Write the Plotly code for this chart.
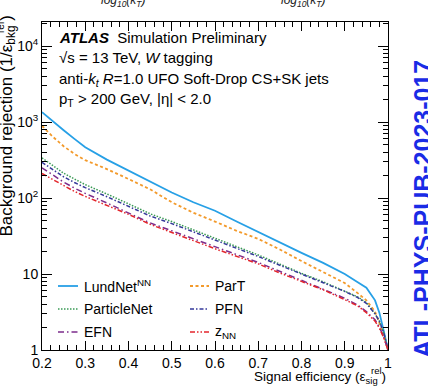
import plotly.graph_objects as go

eff = [0.2, 0.225, 0.25, 0.275, 0.3, 0.35, 0.4, 0.45, 0.5, 0.55, 0.6, 0.65, 0.7,
       0.75, 0.8, 0.85, 0.9, 0.93, 0.95, 0.97, 0.98, 0.99, 1.0]
lundnet = [1350, 1020, 780, 600, 465, 320, 228, 165, 118, 88, 68, 49, 35.5,
           26, 19, 14, 10, 7.8, 6.6, 4.5, 3.1, 1.8, 1.0]
part = [890, 640, 480, 380, 315, 240, 178, 130, 88, 64, 49, 37, 29,
        21, 14.8, 10.6, 7.6, 5.6, 4.5, 3.2, 2.3, 1.6, 1.0]
particlenet = [337, 265, 212, 178, 150, 113, 83, 62, 49, 38, 29.5, 23, 17.8,
               13.5, 10.2, 7.9, 6.0, 5.0, 4.2, 3.0, 2.4, 1.7, 1.0]
pfn = [295, 235, 190, 160, 137, 104, 77, 58, 46, 36, 28, 22, 17,
       13, 10, 7.8, 5.9, 4.9, 4.1, 3.0, 2.4, 1.7, 1.0]
efn = [250, 200, 162, 135, 115, 86, 64, 47, 37, 29, 22.5, 18, 14.2,
       10.8, 8.3, 6.4, 4.8, 3.9, 3.2, 2.5, 2.0, 1.5, 1.0]
znn = [210, 175, 145, 122, 105, 80, 61, 45, 35.5, 27.5, 21.5, 17.2, 13.6,
       10.3, 8.0, 6.2, 4.6, 3.8, 3.1, 2.4, 1.95, 1.45, 1.0]

labels = ["LundNet<sup>NN</sup>", "ParT", "ParticleNet", "PFN", "EFN", "z<sub>NN</sub>"]
values = [lundnet, part, particlenet, pfn, efn, znn]
colors = ["#27a0e6", "#f39a2b", "#3a9a55", "#35399a", "#7c2c8c", "#e3262c"]
dashes = ["solid", "3px,2.5px", "1.5px,1.5px", "4px,2px,1.5px,2px",
          "6px,3px,1.5px,3px", "5px,2px,1.5px,2px,1.5px,2px"]
widths = [1.8, 1.8, 1.5, 1.5, 1.5, 1.5]

x_ticks = [0.2, 0.3, 0.4, 0.5, 0.6, 0.7, 0.8, 0.9, 1.0]
x_ticktext = ["0.2", "0.3", "0.4", "0.5", "0.6", "0.7", "0.8", "0.9", "1"]
y_ticks = [1, 10, 100, 1000, 10000]
y_ticktext = ["1", "10", "10<sup>2</sup>", "10<sup>3</sup>", "10<sup>4</sup>"]

FONT = "Liberation Sans, Arial, Helvetica, sans-serif"
W, H = 428, 387
L, R, T, B = 42, 388, 22, 350


def px2paper(px, py):
    return (px - L) / (R - L), (B - py) / (B - T)


fig = go.Figure()
for name, vals, color, dash, w in zip(labels, values, colors, dashes, widths):
    fig.add_trace(go.Scatter(x=eff, y=vals, mode="lines", name=name, showlegend=False,
                             line=dict(color=color, dash=dash, width=w)))

y_minor = [m * 10 ** k for k in range(0, 5) for m in range(2, 10)]

fig.update_layout(
    width=W, height=H,
    margin=dict(l=L, r=W - R, t=T, b=H - B, autoexpand=False),
    paper_bgcolor="white", plot_bgcolor="white",
    font=dict(family=FONT, color="black", size=14),
    showlegend=False,
    xaxis=dict(range=[0.2, 1.0], showgrid=False, zeroline=False,
               showline=True, linecolor="black", linewidth=1, mirror="allticks",
               ticks="inside", ticklen=9, tickcolor="black",
               tickvals=x_ticks, ticktext=x_ticktext,
               tickfont=dict(size=14, family=FONT),
               minor=dict(ticks="inside", ticklen=5, dtick=0.02, tickcolor="black", showgrid=False)),
    yaxis=dict(type="log", range=[0, 4.316], showgrid=False, zeroline=False,
               showline=True, linecolor="black", linewidth=1, mirror="allticks",
               ticks="inside", ticklen=10, tickcolor="black",
               tickvals=y_ticks, ticktext=y_ticktext,
               tickfont=dict(size=14, family=FONT),
               minor=dict(ticks="inside", ticklen=5, tickvals=y_minor, tickcolor="black", showgrid=False)),
)

annotations = []
shapes = []

# header text
header = [
    ("<b><i>ATLAS</i></b>  Simulation Preliminary", 37),
    ("√s = 13 TeV, <i>W</i> tagging", 58),
    ("anti-<i>k<sub>t</sub></i> <i>R</i>=1.0 UFO Soft-Drop CS+SK jets", 79),
    ("p<sub>T</sub> > 200 GeV, |η| < 2.0", 99),
]
for txt, py in header:
    xp, yp = px2paper(57, py)
    annotations.append(dict(text=txt, x=xp, y=yp, xref="paper", yref="paper",
                            xanchor="left", yanchor="middle", showarrow=False,
                            font=dict(size=15, family=FONT, color="black")))

# manual legend (two columns, row-major order)
leg_rows = [286, 309, 332]
leg_cols = [(58, 78, 82), (190, 209, 213)]
for i, (name, color, dash, w) in enumerate(zip(labels, colors, dashes, widths)):
    r, c = divmod(i, 2)
    x0, x1, xt = leg_cols[c]
    py = leg_rows[r]
    p0 = px2paper(x0, py)
    p1 = px2paper(x1, py)
    shapes.append(dict(type="line", xref="paper", yref="paper",
                       x0=p0[0], x1=p1[0], y0=p0[1], y1=p1[1],
                       line=dict(color=color, dash=dash, width=w)))
    pt = px2paper(xt, py)
    annotations.append(dict(text=name, x=pt[0], y=pt[1], xref="paper", yref="paper",
                            xanchor="left", yanchor="middle", showarrow=False,
                            font=dict(size=14, family=FONT, color="black")))

# x title
xp, yp = px2paper(388, 377)
annotations.append(dict(text="Signal efficiency (ε<sub>sig</sub> )", x=xp, y=yp,
                        xref="paper", yref="paper", xanchor="right", yanchor="middle",
                        showarrow=False, font=dict(size=13.5, family=FONT)))
xp, yp = px2paper(376, 370)
annotations.append(dict(text="rel", x=xp, y=yp, xref="paper", yref="paper",
                        xanchor="center", yanchor="middle", showarrow=False,
                        font=dict(size=9.5, family=FONT)))
# y title
xp, yp = px2paper(7, 14)
annotations.append(dict(text="Background rejection (1/ε<sub>bkg</sub> )", x=xp, y=yp,
                        xref="paper", yref="paper", xanchor="center", yanchor="top",
                        textangle=-90, showarrow=False, font=dict(size=17, family=FONT)))
xp, yp = px2paper(0, 28)
annotations.append(dict(text="rel", x=xp, y=yp, xref="paper", yref="paper",
                        xanchor="center", yanchor="middle", textangle=-90, showarrow=False,
                        font=dict(size=10, family=FONT)))
# cropped top labels from a plot above
for cx in (123, 303):
    xp, yp = px2paper(cx, 1)
    annotations.append(dict(text="<i>log<sub>10</sub>(k<sub>T</sub>)</i>", x=xp, y=yp,
                            xref="paper", yref="paper", xanchor="center", yanchor="middle",
                            showarrow=False, font=dict(size=12, family=FONT, color="#222")))
# side stamp
xp, yp = px2paper(423, 209)
annotations.append(dict(text="<b>ATL-PHYS-PUB-2023-017</b>", x=xp, y=yp,
                        xref="paper", yref="paper", xanchor="center", yanchor="middle",
                        textangle=-90, showarrow=False,
                        font=dict(size=25, family=FONT, color="#1a2be6")))

fig.update_layout(annotations=annotations, shapes=shapes)
fig.write_html("out.html")
